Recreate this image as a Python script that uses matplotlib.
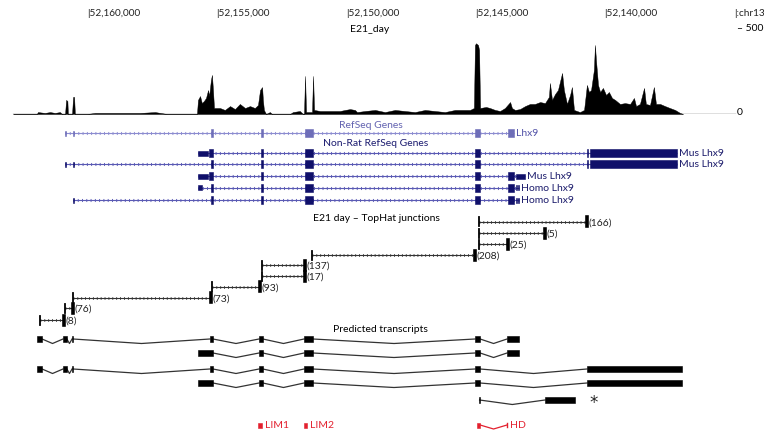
import matplotlib
matplotlib.use("Agg")
import matplotlib.pyplot as plt
from matplotlib.patches import Rectangle

plt.rcParams['font.family'] = ['Lato', 'DejaVu Sans']

# ----------------------------
# Data (chr13 positions in kb; browser view runs from high to low coordinate)
# ----------------------------
VIEW_LEFT_KB = 52163.376
VIEW_RIGHT_KB = 52133.832
PX = 0.03867  # kb per pixel of the browser image

tick_kb = [52160, 52155, 52150, 52145, 52140, 52135]
tick_labels = ["|52,160,000", "|52,155,000", "|52,150,000", "|52,145,000", "|52,140,000", "|:chr13"]

track_start = 52162.87
track_end = 52134.95

# E21_day read coverage
cov_pos = [52162.87, 52161.95, 52161.91, 52161.64, 52161.44, 52161.25, 52161.06, 52160.98,
           52160.86, 52160.82, 52160.77, 52160.75, 52160.59, 52160.55, 52160.51, 52160.48,
           52160.01, 52159.70, 52159.12, 52158.54, 52157.96, 52157.38, 52156.92,
           52155.76, 52155.72, 52155.64, 52155.57, 52155.49, 52155.41, 52155.33, 52155.29,
           52155.22, 52155.18, 52155.14, 52155.10, 52154.87, 52154.68, 52154.48, 52154.29,
           52154.10, 52153.90, 52153.71, 52153.52, 52153.40, 52153.32, 52153.24, 52153.21,
           52153.17, 52153.09, 52152.94, 52152.86, 52152.16, 52152.05, 52151.78, 52151.66,
           52151.62, 52151.58, 52151.54, 52151.31, 52151.27, 52151.23, 52151.00, 52150.62,
           52150.23, 52150.03, 52149.84, 52149.65, 52149.57, 52149.26, 52148.87, 52148.49,
           52148.10, 52147.72, 52147.33, 52146.94, 52146.56, 52146.17, 52145.78, 52145.39,
           52145.20, 52145.05, 52145.01, 52144.97, 52144.89, 52144.85, 52144.81, 52144.58,
           52144.43, 52144.23, 52144.04, 52143.85, 52143.65, 52143.58, 52143.46, 52143.27,
           52143.07, 52142.88, 52142.69, 52142.49, 52142.30, 52142.15, 52142.11, 52142.03,
           52141.91, 52141.80, 52141.64, 52141.57, 52141.45, 52141.33, 52141.26, 52141.18,
           52140.95, 52140.79, 52140.68, 52140.60, 52140.52, 52140.41, 52140.37, 52140.33,
           52140.25, 52140.17, 52140.06, 52139.94, 52139.83, 52139.71, 52139.59, 52139.40,
           52139.21, 52139.01, 52138.86, 52138.78, 52138.63, 52138.47, 52138.40, 52138.24,
           52138.09, 52138.01, 52137.85, 52137.66, 52137.47, 52137.27, 52137.08, 52136.96]
cov_depth = [0, 0, 11, 6, 11, 6, 11, 0,
             0, 80, 74, 0, 0, 97, 97, 0,
             0, 6, 6, 6, 6, 11, 0,
             0, 80, 102, 62, 74, 91, 136, 102,
             193, 222, 136, 34, 34, 23, 45, 28,
             57, 34, 45, 34, 51, 136, 153, 80,
             23, 0, 11, 0, 0, 11, 17, 0,
             0, 216, 11, 11, 216, 23, 17, 17,
             17, 23, 28, 23, 11, 17, 23, 11,
             23, 17, 11, 23, 17, 11, 23, 23,
             23, 34, 392, 402, 392, 364, 34, 40,
             34, 23, 17, 34, 68, 34, 23, 28,
             45, 57, 57, 68, 62, 97, 176, 80,
             114, 136, 233, 136, 57, 108, 153, 23,
             11, 23, 165, 125, 136, 250, 392, 307,
             165, 125, 148, 108, 125, 91, 80, 57,
             62, 57, 91, 45, 57, 148, 57, 51,
             153, 57, 57, 45, 34, 23, 6, 0]

# RefSeq Genes (rat)
refseq_name = "Lhx9"
refseq_exons = [(52160.86, 52160.82, "utr"), (52160.55, 52160.51, "utr"), (52155.20, 52155.14, "cds"),
                (52153.28, 52153.19, "cds"), (52151.58, 52151.27, "cds"), (52145.01, 52144.81, "cds"),
                (52143.73, 52143.50, "cds")]

# Non-Rat RefSeq Genes
nonrat_names = ["Mus Lhx9", "Mus Lhx9", "Mus Lhx9", "Homo Lhx9", "Homo Lhx9"]
nonrat_exons = [
    [(52155.72, 52155.33, "utr"), (52155.29, 52155.14, "cds"), (52153.28, 52153.19, "cds"),
     (52151.58, 52151.27, "cds"), (52145.01, 52144.81, "cds"), (52140.68, 52140.62, "cds"),
     (52140.56, 52137.20, "cds")],
    [(52160.86, 52160.82, "utr"), (52160.55, 52160.51, "utr"), (52155.20, 52155.14, "cds"),
     (52153.28, 52153.19, "cds"), (52151.58, 52151.27, "cds"), (52145.01, 52144.81, "cds"),
     (52140.68, 52140.62, "cds"), (52140.56, 52137.20, "cds")],
    [(52155.72, 52155.33, "utr"), (52155.29, 52155.14, "cds"), (52153.28, 52153.19, "cds"),
     (52151.58, 52151.27, "cds"), (52145.01, 52144.81, "cds"), (52143.73, 52143.50, "cds"),
     (52143.42, 52143.07, "utr")],
    [(52155.72, 52155.57, "utr"), (52155.20, 52155.14, "cds"), (52153.28, 52153.19, "cds"),
     (52151.58, 52151.27, "cds"), (52145.01, 52144.81, "cds"), (52143.73, 52143.50, "cds"),
     (52143.42, 52143.38, "utr"), (52143.33, 52143.29, "utr")],
    [(52160.55, 52160.51, "utr"), (52155.20, 52155.14, "cds"), (52153.28, 52153.19, "cds"),
     (52151.58, 52151.27, "cds"), (52145.01, 52144.81, "cds"), (52143.73, 52143.50, "cds"),
     (52143.42, 52143.38, "utr"), (52143.33, 52143.29, "utr")],
]

# TopHat junctions
junc_left = [52144.87, 52144.87, 52144.87, 52151.32, 52153.23, 52153.23, 52155.19, 52160.57, 52160.86, 52161.83]
junc_right = [52140.68, 52142.30, 52143.73, 52145.00, 52151.58, 52151.58, 52153.32, 52155.23, 52160.57, 52160.89]
junc_counts = [166, 5, 25, 208, 137, 17, 93, 73, 76, 8]

# Predicted transcripts
pred_exons = [
    [(52161.95, 52161.75), (52160.94, 52160.79), (52160.59, 52160.55), (52155.26, 52155.14),
     (52153.36, 52153.21), (52151.62, 52151.27), (52145.01, 52144.81), (52143.77, 52143.31)],
    [(52155.72, 52155.14), (52153.36, 52153.21), (52151.62, 52151.27), (52145.01, 52144.81),
     (52143.77, 52143.31)],
    [(52161.95, 52161.75), (52160.94, 52160.79), (52160.59, 52160.55), (52155.26, 52155.14),
     (52153.36, 52153.21), (52151.62, 52151.27), (52145.01, 52144.81), (52140.68, 52137.00)],
    [(52155.72, 52155.14), (52153.36, 52153.21), (52151.62, 52151.27), (52145.01, 52144.81),
     (52140.68, 52137.00)],
    [(52144.85, 52144.83), (52142.30, 52141.14)],
]
novel_mark_kb = 52140.60

# Protein domains
domain_names = ["LIM1", "LIM2", "HD"]
domain_boxes = [(52153.38, 52153.26), (52151.62, 52151.50), (52144.93, 52144.81)]
hd_tail_end = 52143.77

# ----------------------------
# Layout (pixel rows of the 764x436 browser image)
# ----------------------------
refseq_row = 133
nonrat_rows = [153, 164, 176, 188, 200]
junc_rows = [221.7, 233.3, 244.3, 255, 265, 276, 286.7, 297.7, 308.3, 320]
pred_rows = [339, 353, 369, 383, 400]
domain_row = 425

REFSEQ_LINE = "#8c8cd0"
REFSEQ_EXON = "#6e6eb8"
NONRAT_LINE = "#5a5ab4"
NONRAT_EXON = "#10106a"
RED = "#e3202e"
FS = 7.5

fig = plt.figure(figsize=(7.64, 4.36), dpi=100)
ax = fig.add_axes([0, 0, 1, 1])
ax.set_xlim(VIEW_LEFT_KB, VIEW_RIGHT_KB)
ax.set_ylim(436, 0)
ax.axis("off")

# coverage track
ax_cov = fig.add_axes([0, (436 - 114) / 436, 1, 88 / 436])
ax_cov.set_xlim(VIEW_LEFT_KB, VIEW_RIGHT_KB)
ax_cov.set_ylim(0, 500)
ax_cov.axis("off")
ax_cov.fill_between(cov_pos, cov_depth, 0, color="black", lw=0.3)
ax_cov.plot([track_start, track_end], [0, 0], color="black", lw=0.9)
ax_cov.text(track_end - 2 * PX, 488, "– 500", fontsize=FS, va="center", ha="left")
ax_cov.text(track_end - 2 * PX, 8, "0", fontsize=FS, va="center", ha="left")

# position ruler
for kb, lab in zip(tick_kb, tick_labels):
    ax.text(kb, 14, lab, fontsize=7.2, va="center", ha="left", color="#222222")

fig.text(370 / 764, 1 - 30 / 436, "E21_day", fontsize=FS, ha="center", va="center")
fig.text(371 / 764, 1 - 125 / 436, "RefSeq Genes", fontsize=FS, ha="center", va="center", color="#6262b0")
fig.text(376 / 764, 1 - 144 / 436, "Non-Rat RefSeq Genes", fontsize=FS, ha="center", va="center", color="#1c1c70")
fig.text(376 / 764, 1 - 218 / 436, "E21 day – TopHat junctions", fontsize=FS, ha="center", va="center")
fig.text(380 / 764, 1 - 329 / 436, "Predicted transcripts", fontsize=FS, ha="center", va="center")


def hatched_line(x0, x1, y, color, lw_tick=2.2):
    ax.plot([x0, x1], [y, y], color=color, lw=0.8, solid_capstyle="butt", zorder=2)
    ax.plot([x0, x1], [y, y], color=color, lw=lw_tick, ls=(0, (0.3, 1.1)), dash_capstyle="butt", zorder=2)


def draw_gene(y, exons, line_color, exon_color, label, label_color):
    lo = max(e[0] for e in exons)
    hi = min(e[1] for e in exons)
    hatched_line(lo, hi, y, line_color)
    for start, end, kind in exons:
        h = 8 if kind == "cds" else 5
        ax.add_patch(Rectangle((end, y - h / 2), start - end, h, color=exon_color, lw=0.4, zorder=3))
    ax.text(hi - 2 * PX, y, label, fontsize=FS, va="center", ha="left", color=label_color)


draw_gene(refseq_row, refseq_exons, REFSEQ_LINE, REFSEQ_EXON, refseq_name, "#5252a8")
for y, exons, name in zip(nonrat_rows, nonrat_exons, nonrat_names):
    draw_gene(y, exons, NONRAT_LINE, NONRAT_EXON, name, "#1c1c6c")

# junctions
for left, right, n, y in zip(junc_left, junc_right, junc_counts, junc_rows):
    hatched_line(left, right, y, "#333333", lw_tick=2.0)
    ax.plot([left, left], [y - 4.5, y + 4.5], color="black", lw=1.3, zorder=3)
    ax.plot([right, right], [y - 4.5, y + 4.5], color="black", lw=2.6, zorder=3)
    ax.text(right - 1.5 * PX, y + 1.2, f"({n})", fontsize=FS, va="center", ha="left", color="#222222")


def chevron(x0, x1, y, color, lw=0.9, dip=4.5):
    ax.plot([x0, (x0 + x1) / 2, x1], [y, y + dip, y], color=color, lw=lw, zorder=2)


# predicted transcripts
for y, exons in zip(pred_rows, pred_exons):
    for (s0, e0), (s1, e1) in zip(exons[:-1], exons[1:]):
        chevron(e0, s1, y, "#333333")
    for start, end in exons:
        ax.add_patch(Rectangle((end, y - 3), start - end, 6, color="black", lw=0.4, zorder=3))
ax.text(novel_mark_kb, pred_rows[4] + 3, "*", fontsize=12, va="center", ha="left",
        family="DejaVu Sans", color="#222222")

# protein domains
for name, (start, end) in zip(domain_names, domain_boxes):
    ax.add_patch(Rectangle((end, domain_row - 2.5), start - end, 5, color=RED, lw=0.4, zorder=3))
    tail = end if name != "HD" else hd_tail_end
    if name == "HD":
        chevron(end, hd_tail_end, domain_row, RED, lw=0.9, dip=4)
        ax.plot([hd_tail_end, hd_tail_end], [domain_row - 2, domain_row + 2], color=RED, lw=1.0)
    ax.text(tail - 3 * PX, domain_row, name, fontsize=FS, va="center", ha="left", color=RED)

fig.savefig("out.png", dpi=100)
